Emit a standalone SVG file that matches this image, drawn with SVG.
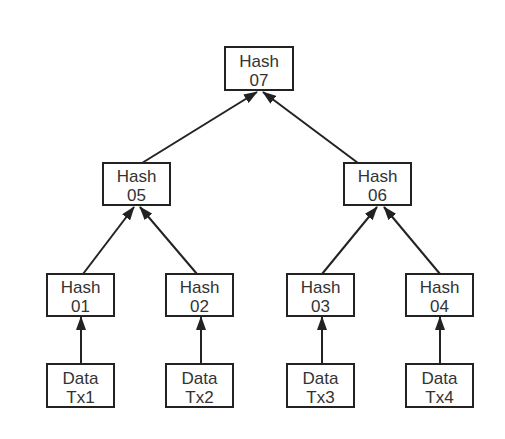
<svg xmlns="http://www.w3.org/2000/svg" width="505" height="439" viewBox="0 0 505 439">
<defs>
<marker id="arr" viewBox="0 0 14 10" refX="13" refY="5" markerWidth="14" markerHeight="10" markerUnits="userSpaceOnUse" orient="auto">
<path d="M0,0 L14,5 L0,10 z" fill="#222"/>
</marker>
<style>
rect{fill:#fff;stroke:#222;stroke-width:2}
text{font-family:"Liberation Sans","Noto Sans",sans-serif;font-size:17px;fill:#333;text-anchor:middle}
.c line{stroke:#222;stroke-width:2;marker-end:url(#arr)}
</style>
</defs>
<rect x="0" y="0" width="505" height="439" style="fill:#fff;stroke:none"/>
<g class="c">
<line x1="142" y1="163" x2="257" y2="92"/>
<line x1="358" y1="163" x2="263" y2="92"/>
<line x1="83" y1="274" x2="134" y2="207"/>
<line x1="197" y1="274" x2="140" y2="207"/>
<line x1="322" y1="274" x2="377" y2="207"/>
<line x1="440" y1="274" x2="384" y2="207"/>
<line x1="81" y1="364" x2="81" y2="317"/>
<line x1="201" y1="364" x2="201" y2="317"/>
<line x1="322" y1="364" x2="322" y2="317"/>
<line x1="440" y1="364" x2="440" y2="317"/>
</g>
<g id="h07"><rect x="225" y="47" width="68" height="43"/><text x="259" y="67">Hash</text><text x="259" y="86">07</text></g>
<g id="h05"><rect x="103" y="163" width="67" height="42"/><text x="136.5" y="182">Hash</text><text x="136.5" y="201">05</text></g>
<g id="h06"><rect x="344" y="163" width="67" height="42"/><text x="377.5" y="182">Hash</text><text x="377.5" y="201">06</text></g>
<g id="h01"><rect x="47" y="274" width="67" height="42"/><text x="80.5" y="293">Hash</text><text x="80.5" y="312">01</text></g>
<g id="h02"><rect x="166" y="274" width="67" height="42"/><text x="199.5" y="293">Hash</text><text x="199.5" y="312">02</text></g>
<g id="h03"><rect x="287" y="274" width="67" height="42"/><text x="320.5" y="293">Hash</text><text x="320.5" y="312">03</text></g>
<g id="h04"><rect x="406" y="274" width="67" height="42"/><text x="439.5" y="293">Hash</text><text x="439.5" y="312">04</text></g>
<g id="d1"><rect x="47" y="364" width="67" height="43"/><text x="80.5" y="384">Data</text><text x="80.5" y="403">Tx1</text></g>
<g id="d2"><rect x="166" y="364" width="67" height="43"/><text x="199.5" y="384">Data</text><text x="199.5" y="403">Tx2</text></g>
<g id="d3"><rect x="287" y="364" width="67" height="43"/><text x="320.5" y="384">Data</text><text x="320.5" y="403">Tx3</text></g>
<g id="d4"><rect x="406" y="364" width="67" height="43"/><text x="439.5" y="384">Data</text><text x="439.5" y="403">Tx4</text></g>
</svg>
